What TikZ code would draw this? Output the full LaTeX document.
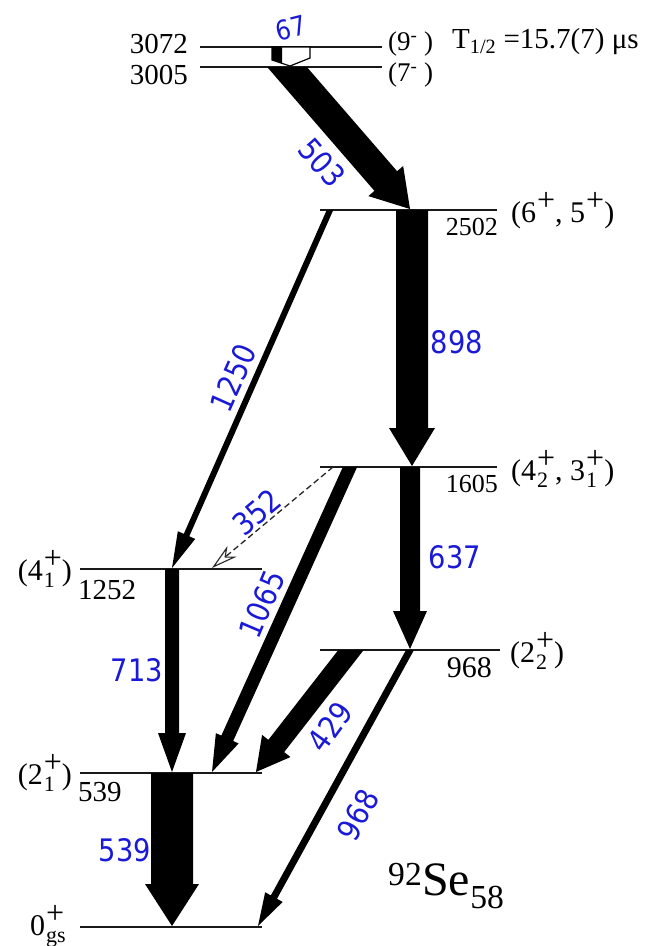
\documentclass[tikz,border=0pt]{standalone}
\usepackage{fontspec}
\setmainfont{Liberation Serif}
\newfontfamily\labfam[FakeStretch=0.88]{DejaVu Sans}
\usetikzlibrary{calc,arrows.meta}
\definecolor{labblue}{RGB}{25,25,215}
\newcommand\fs[1]{\fontsize{#1}{#1}\selectfont}
\newcommand\pl{\kern1pt\raisebox{12pt}{\fs{32}+}}
\newcommand\ps[1]{\kern1pt\rlap{\raisebox{-7pt}{\fs{22}#1}}\raisebox{12pt}{\fs{32}+}}
% start, tip, half shaft width, half head width, head length
\newcommand\fatarrow[5]{%
  \begin{scope}
    \clip let \p1=(#1) in (-10pt,\y1) rectangle (700pt,-960pt);
    \coordinate (fastart) at ($(#1)!-25pt!(#2)$);
    \coordinate (fabase) at ($(#2)!#5!(#1)$);
    \fill[gamfill] ($(fastart)!#3!90:(#2)$) -- ($(fabase)!#3!90:(#2)$) --
      ($(fabase)!#4!90:(#2)$) -- (#2) -- ($(fabase)!#4!-90:(#2)$) --
      ($(fabase)!#3!-90:(#2)$) -- ($(fastart)!#3!-90:(#2)$) -- cycle;
  \end{scope}}
\begin{document}
\begin{tikzpicture}[x=1pt,y=-1pt,
  lev/.style={line width=1.7pt,draw=black!90},
  gamfill/.style={fill=black},
  lab/.style={text=labblue,inner sep=0pt,font=\labfam\fs{31}},
  en/.style={inner sep=0pt,font=\fs{26}},
  spin/.style={inner sep=0pt,font=\fs{30}}]
\useasboundingbox (0,0) rectangle (654,946);
% level end points
\coordinate (a3072) at (200,47);  \coordinate (b3072) at (382,47);
\coordinate (a3005) at (200,67);  \coordinate (b3005) at (382,67);
\coordinate (a2502) at (320,210); \coordinate (b2502) at (497,210);
\coordinate (a1605) at (320,467); \coordinate (b1605) at (497,467);
\coordinate (a1252) at (80,569);  \coordinate (b1252) at (262,569);
\coordinate (a968)  at (320,650); \coordinate (b968)  at (500,650);
\coordinate (a539)  at (80,773);  \coordinate (b539)  at (262,773);
\coordinate (a0)    at (80,927);  \coordinate (b0)    at (262,927);
% transition end points
\coordinate (s503) at (287,67);   \coordinate (t503) at (410,209);
\coordinate (s898) at (412,210);  \coordinate (t898) at (412,466);
\coordinate (s1250) at (330,210); \coordinate (t1250) at (172,568);
\coordinate (s352) at (333,467);  \coordinate (t352) at (212,568);
\coordinate (s1065) at (350,467); \coordinate (t1065) at (212,772);
\coordinate (s637) at (410,467);  \coordinate (t637) at (410,649);
\coordinate (s713) at (172,569);  \coordinate (t713) at (172,772);
\coordinate (s429) at (351,650);  \coordinate (t429) at (256,772);
\coordinate (s968) at (410,650);  \coordinate (t968) at (258,926);
\coordinate (s539) at (172,773);  \coordinate (t539) at (172,926);
% levels
\foreach \l in {3072,3005,2502,1605,1252,968,539,0}
  \draw[lev] (a\l) -- (b\l);
% transitions
\fatarrow{s503}{t503}{15pt}{23pt}{37pt}
\fatarrow{s898}{t898}{16pt}{23pt}{38pt}
\fatarrow{s1250}{t1250}{3pt}{9.5pt}{36pt}
\fatarrow{s1065}{t1065}{6.5pt}{12.5pt}{37pt}
\fatarrow{s637}{t637}{10pt}{17pt}{38pt}
\fatarrow{s713}{t713}{7pt}{14pt}{39pt}
\fatarrow{s429}{t429}{10pt}{18pt}{33pt}
\fatarrow{s968}{t968}{3.5pt}{10pt}{33pt}
\fatarrow{s539}{t539}{21pt}{27pt}{42pt}
\draw[draw=black!85,dash pattern=on 6pt off 3.5pt,line width=1.3pt,
  -{Stealth[open,length=26pt,width=14pt,inset=8pt,line width=1.1pt]}] (s352) -- (t352);
% 67 keV transition (gamma + conversion)
\draw[line width=1.2pt,fill=white] (272,47) -- (310,47) -- (310,58) -- (290,66) -- (272,60) -- cycle;
\fill (272,47) -- (282,47) -- (282,63.3) -- (272,60) -- cycle;
% energies
\node[en,font=\fs{29},anchor=east] (e3072) at (188,44) {3072};
\node[en,font=\fs{29},anchor=east] (e3005) at (188,75) {3005};
\node[en,anchor=base east] (e2502) at (498,235) {2502};
\node[en,anchor=base east] (e1605) at (498,492) {1605};
\node[en,font=\fs{29},anchor=base west] (e1252) at (78,599) {1252};
\node[en,font=\fs{30},anchor=base east] (e968) at (492,677) {968};
\node[en,font=\fs{29},anchor=base west] (e539) at (78,801) {539};
% spins
\node[spin,font=\fs{27},anchor=west] (j3072) at (388,44) {(9\textsuperscript{-} )};
\node[spin,font=\fs{27},anchor=west] (j3005) at (388,75) {(7\textsuperscript{-} )};
\node[spin,font=\fs{29},anchor=west] (thalf) at (452,42) {T\textsubscript{1/2} =15.7(7) μs};
\node[spin,anchor=base west] (j2502) at (511,222) {(6\pl, 5\pl)};
\node[spin,anchor=base west] (j1605) at (511,480) {(4\ps{2}, 3\ps{1})};
\node[spin,anchor=base east] (j1252) at (72,580) {(4\ps{1})};
\node[spin,anchor=base west] (j968) at (510,662) {(2\ps{2})};
\node[spin,anchor=base east] (j539) at (72,784) {(2\ps{1})};
\node[spin,anchor=base west] (j0) at (30,935) {0\ps{gs}};
\node[spin,font=\fs{48},anchor=base west] (nuc) at (388,895) {\textsuperscript{92}Se\textsubscript{58}};
% gamma energies
\node[lab,font=\labfam\fs{27},rotate=14] (l67) at (291,28) {67};
\node[lab,rotate=-49] (l503) at (322,163) {503};
\node[lab] (l898) at (457,342) {898};
\node[lab,rotate=66] (l1250) at (233,378) {1250};
\node[lab,rotate=40] (l352) at (257,512) {352};
\node[lab] (l637) at (455,557) {637};
\node[lab,rotate=67] (l1065) at (262,604) {1065};
\node[lab] (l713) at (137,670) {713};
\node[lab,rotate=54] (l429) at (330,727) {429};
\node[lab,rotate=62] (l968) at (358,815) {968};
\node[lab] (l539) at (125,850) {539};
\end{tikzpicture}
\end{document}
